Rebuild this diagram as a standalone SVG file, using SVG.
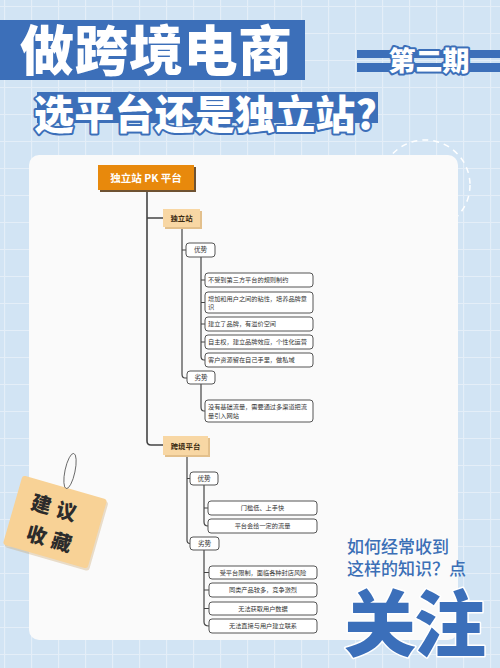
<svg xmlns="http://www.w3.org/2000/svg" width="500" height="668" viewBox="0 0 500 668">
<defs>
<pattern id="grid" width="27" height="27" patternUnits="userSpaceOnUse" x="4" y="6">
<path d="M0 0.5H27M0.5 0V27" stroke="#e4eef8" stroke-width="1.2" fill="none"/>
</pattern>
<style>
.cjk{font-family:"Noto Sans CJK SC","Noto Sans",sans-serif}
.title{font-weight:900;fill:#ffffff}
.item{fill:#ffffff;stroke:#555555;stroke-width:1}
.it{font-size:6.2px;fill:#333333}
.lbl{font-size:6.6px;fill:#333333;text-anchor:middle}
.sub{font-size:7.4px;font-weight:700;fill:#3a2a10;text-anchor:middle}
.con{fill:none;stroke:#444444;stroke-width:1.2}
.main{stroke-width:1.6}
</style>
</defs>
<rect width="500" height="668" fill="#d2e4f4"/>
<rect width="500" height="668" fill="url(#grid)"/>
<circle cx="425" cy="185" r="45" fill="none" stroke="#ffffff" stroke-width="1.5" stroke-dasharray="6 5"/>
<rect x="29" y="155" width="429" height="485" rx="10" fill="#fafafa"/>

<g id="title">
<rect x="0" y="20" width="305" height="60" fill="#3c6fb9"/>
<text class="cjk title" x="20" y="71" font-size="54" textLength="272">做跨境电商</text>
<rect x="37" y="92" width="341" height="31" fill="#3c6fb9"/>
<text class="cjk title" x="34" y="129" font-size="40" stroke="#3c6fb9" stroke-width="4" paint-order="stroke" stroke-linejoin="round" textLength="343">选平台还是独立站?</text>
</g>
<g id="issue">
<rect x="357" y="50" width="143" height="8" fill="#3c6fb9"/>
<rect x="357" y="63" width="143" height="9" fill="#3c6fb9"/>
<text class="cjk title" x="429" y="71" font-size="27" text-anchor="middle" stroke="#3c6fb9" stroke-width="4" paint-order="stroke" stroke-linejoin="round">第二期</text>
</g>

<g id="connectors">
<path class="con main" d="M147 191V441Q147 445 151 445H163M147 218H163"/>
<path class="con" d="M182 227V374Q182 378 185 378H187M182 250H186"/>
<path class="con" d="M201 257V356Q201 360 204 360H205M201 280H205M201 302.5H205M201 324H205M201 342H205"/>
<path class="con" d="M201 384V407Q201 411 204 411H205"/>
<path class="con" d="M187 455V540Q187 543.5 190 543.5M187 478.5H190"/>
<path class="con" d="M204 485V522Q204 526 208 526M204 508H208"/>
<path class="con" d="M204 550V622Q204 626 209 626M204 572.5H209M204 590H209M204 608.5H209"/>
</g>

<g id="root">
<rect x="100" y="167" width="96" height="25" fill="#6e5232"/>
<rect x="98" y="165" width="96" height="25" fill="#e8890c"/>
<text class="cjk" x="146" y="181.5" font-size="10.5" font-weight="700" fill="#ffffff" text-anchor="middle">独立站 PK 平台</text>
</g>
<g id="n-dulizhan">
<rect x="165" y="211" width="37" height="18" fill="#e3c08c"/>
<rect x="163" y="209" width="37" height="18" fill="#f8d7a4"/>
<text class="cjk sub" x="181.5" y="221">独立站</text>
</g>
<g id="n-d-adv">
<rect class="item" x="186" y="243" width="29" height="14" rx="3"/>
<text class="cjk lbl" x="200.5" y="252.3">优势</text>
</g>
<g id="n-d-a1"><rect class="item" x="205" y="273" width="108" height="14" rx="3"/><text class="cjk it" x="208" y="282.2">不受到第三方平台的规则制约</text></g>
<g id="n-d-a2"><rect class="item" x="205" y="292" width="108" height="21" rx="3"/><text class="cjk it" x="208" y="300.5">增加和用户之间的粘性，培养品牌意</text><text class="cjk it" x="208" y="309">识</text></g>
<g id="n-d-a3"><rect class="item" x="205" y="317" width="108" height="14" rx="3"/><text class="cjk it" x="208" y="326.2">建立了品牌，有溢价空间</text></g>
<g id="n-d-a4"><rect class="item" x="205" y="335" width="108" height="14" rx="3"/><text class="cjk it" x="208" y="344.2">自主权，建立品牌效应，个性化运营</text></g>
<g id="n-d-a5"><rect class="item" x="205" y="353" width="108" height="14" rx="3"/><text class="cjk it" x="208" y="362.2">客户资源留在自己手里，做私域</text></g>
<g id="n-d-dis">
<rect class="item" x="187" y="371" width="28" height="13" rx="3"/>
<text class="cjk lbl" x="201" y="379.8">劣势</text>
</g>
<g id="n-d-d1"><rect class="item" x="205" y="400" width="108" height="22" rx="3"/><text class="cjk it" x="208" y="409">没有基础流量，需要通过多渠道把流</text><text class="cjk it" x="208" y="418">量引入网站</text></g>

<g id="n-pingtai">
<rect x="165" y="438" width="45" height="19" fill="#e3c08c"/>
<rect x="163" y="436" width="45" height="19" fill="#f8d7a4"/>
<text class="cjk sub" x="185.5" y="448.5">跨境平台</text>
</g>
<g id="n-p-adv">
<rect class="item" x="190" y="472" width="28" height="13" rx="3"/>
<text class="cjk lbl" x="204" y="480.8">优势</text>
</g>
<g id="n-p-a1"><rect class="item" x="208" y="501" width="109" height="14" rx="3"/><text class="cjk it" x="262.5" y="510.2" text-anchor="middle">门槛低、上手快</text></g>
<g id="n-p-a2"><rect class="item" x="208" y="519" width="109" height="14" rx="3"/><text class="cjk it" x="262.5" y="528.2" text-anchor="middle">平台会给一定的流量</text></g>
<g id="n-p-dis">
<rect class="item" x="190" y="537" width="29" height="13" rx="3"/>
<text class="cjk lbl" x="204.5" y="545.8">劣势</text>
</g>
<g id="n-p-d1"><rect class="item" x="209" y="566" width="108" height="13" rx="3"/><text class="cjk it" x="263" y="574.8" text-anchor="middle">受平台限制，面临各种封店风险</text></g>
<g id="n-p-d2"><rect class="item" x="209" y="583" width="108" height="14" rx="3"/><text class="cjk it" x="263" y="592.2" text-anchor="middle">同类产品较多，竞争激烈</text></g>
<g id="n-p-d3"><rect class="item" x="209" y="602" width="108" height="13" rx="3"/><text class="cjk it" x="263" y="610.8" text-anchor="middle">无法获取用户数据</text></g>
<g id="n-p-d4"><rect class="item" x="209" y="619" width="108" height="14" rx="3"/><text class="cjk it" x="263" y="628.2" text-anchor="middle">无法直接与用户建立联系</text></g>

<g id="sticky">
<g transform="translate(55 522) rotate(16)">
<rect x="-42" y="-34" width="88" height="72" rx="3" fill="#c9a46a" opacity="0.35"/>
<rect x="-44" y="-36" width="88" height="72" rx="3" fill="#f8d296"/>
<text class="cjk" x="-2" y="-6" font-size="20" font-weight="900" fill="#2b2b2b" text-anchor="middle" letter-spacing="6">建议</text>
<text class="cjk" x="2" y="25" font-size="20" font-weight="900" fill="#2b2b2b" text-anchor="middle" letter-spacing="6">收藏</text>
</g>
<ellipse cx="70" cy="471" rx="5" ry="18" transform="rotate(12 70 471)" fill="none" stroke="#666666" stroke-width="0.9"/>
</g>

<g id="cta">
<text class="cjk" x="347" y="553" font-size="17" font-weight="500" fill="#3b6fb6">如何经常收到</text>
<text class="cjk" x="347" y="575" font-size="17" font-weight="500" fill="#3b6fb6">这样的知识？点</text>
<text class="cjk" x="344" y="650" font-size="72" font-weight="900" fill="#3b6fba" stroke="#ffffff" stroke-width="3" paint-order="stroke" stroke-linejoin="round" textLength="142">关注</text>
</g>
</svg>
